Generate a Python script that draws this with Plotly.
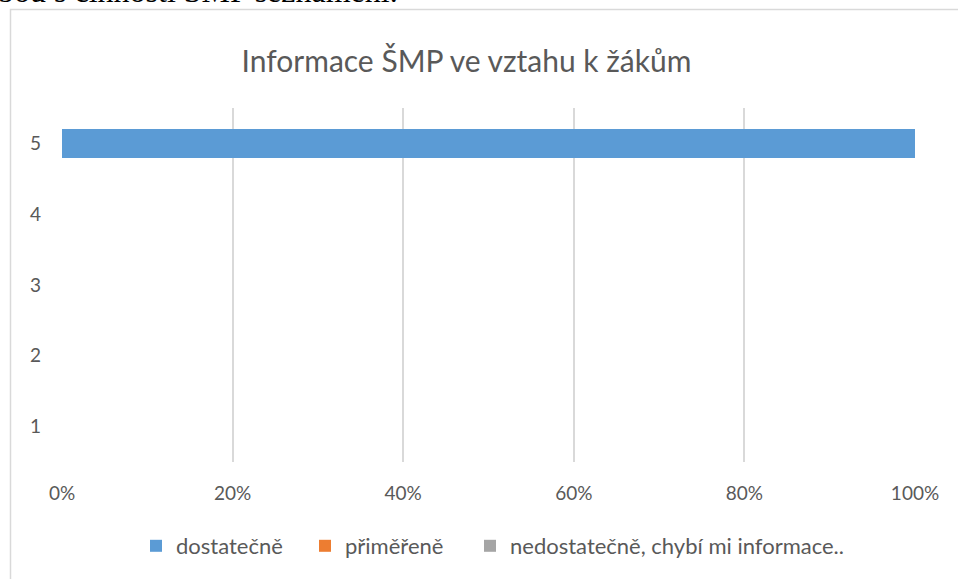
import plotly.graph_objects as go

categories = ["1", "2", "3", "4", "5"]
dostatecne = [None, None, None, None, 100]
primerene = [None, None, None, None, 0]
nedostatecne = [None, None, None, None, 0]
x_ticks = [0, 20, 40, 60, 80, 100]
x_ticklabels = ["0%", "20%", "40%", "60%", "80%", "100%"]

W, H = 958, 579
L, R, T, B = 62, 43, 108, 117
pw, ph = W - L - R, H - T - B

def px_x(p):
    return (p - L) / pw

def px_y(p):
    return 1 - (p - T) / ph

font_fam = "Lato, 'Open Sans', sans-serif"
txt = "#595959"

fig = go.Figure()
for name, vals, col, lg in [
    ("dostatečně", dostatecne, "#5B9BD5", "legend"),
    ("přiměřeně", primerene, "#ED7D31", "legend"),
    ("nedostatečně, chybí mi informace..", nedostatecne, "#A5A5A5", "legend2"),
]:
    fig.add_trace(go.Bar(y=categories, x=vals, name=name, orientation="h",
                         legend=lg,
                         marker=dict(color=col, line=dict(width=0))))

fig.update_layout(
    width=W, height=H,
    margin=dict(l=L, r=R, t=T, b=B),
    barmode="stack", bargap=0.6,
    paper_bgcolor="white", plot_bgcolor="white",
    font=dict(family=font_fam, color=txt, size=19),
    title=dict(text="Informace ŠMP ve vztahu k žákům", x=px_x(466.5), xanchor="center",
               xref="paper", y=1 - 61 / H, yanchor="middle",
               font=dict(size=30, color=txt, family=font_fam)),
    xaxis=dict(range=[0, 100], tickvals=x_ticks, ticktext=x_ticklabels,
               showgrid=True, gridcolor="#D9D9D9", gridwidth=1.5,
               zeroline=False, showline=False, ticks="",
               ticklabelstandoff=18, tickfont=dict(size=19, color=txt),
               fixedrange=True),
    yaxis=dict(type="category", categoryorder="array", categoryarray=categories,
               range=[-0.5, 4.5], showgrid=False, zeroline=False, showline=False,
               ticks="", ticklabelstandoff=20, tickfont=dict(size=19, color=txt),
               fixedrange=True),
    legend=dict(orientation="h", x=px_x(136), xanchor="left", xref="paper",
                y=px_y(546), yanchor="middle",
                entrywidth=124, entrywidthmode="pixels",
                font=dict(size=22, color=txt), traceorder="normal",
                itemclick=False),
    legend2=dict(orientation="h", x=px_x(470), xanchor="left", xref="paper",
                 y=px_y(546), yanchor="middle",
                 font=dict(size=22, color=txt), traceorder="normal",
                 itemclick=False),
    showlegend=True,
)

fig.add_shape(type="rect", xref="paper", yref="paper",
              x0=px_x(10.5), x1=px_x(1000), y0=px_y(640), y1=px_y(9.5),
              line=dict(color="#D9D9D9", width=1.5), fillcolor="rgba(0,0,0,0)",
              layer="below")

fig.add_annotation(text="bou s činností ŠMP seznámeni.", xref="paper", yref="paper",
                   x=px_x(-4), xanchor="left", y=px_y(11), yanchor="bottom",
                   showarrow=False,
                   font=dict(family="'Liberation Serif', 'Times New Roman', serif",
                             size=32, color="black"))

fig.write_html("out.html", config={"displayModeBar": False},
               post_script="document.body.style.margin='0px';")
